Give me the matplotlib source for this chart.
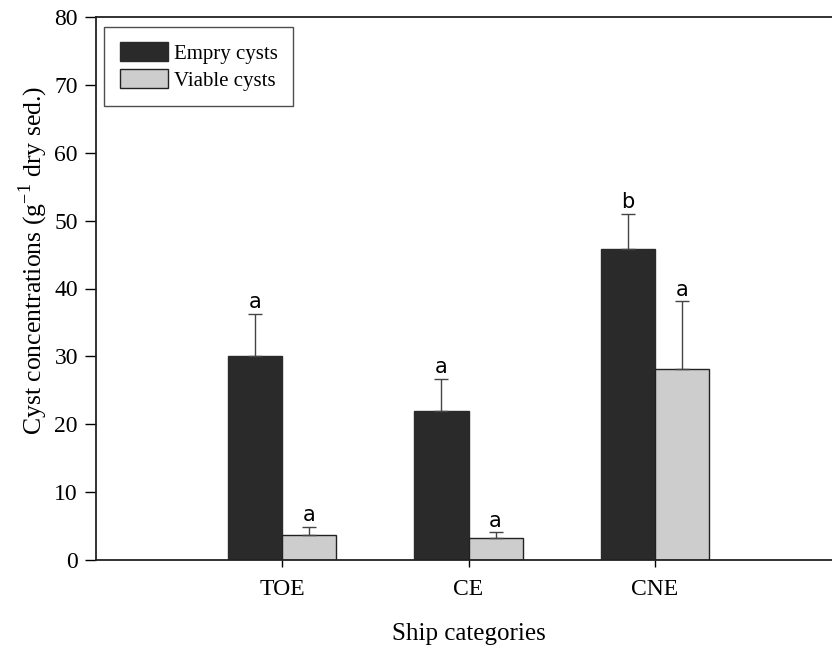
import numpy as np
import matplotlib
matplotlib.use("Agg")
import matplotlib.pyplot as plt

# Cyst concentrations per ship category
categories = ["TOE", "CE", "CNE"]
empty_mean = [30.1, 21.9, 45.8]
empty_err = [6.2, 4.8, 5.2]
viable_mean = [3.7, 3.3, 28.2]
viable_err = [1.2, 0.8, 9.9]
empty_letters = ["a", "a", "b"]
viable_letters = ["a", "a", "a"]
y_ticks = [0, 10, 20, 30, 40, 50, 60, 70, 80]

plt.rcParams["font.family"] = ["Liberation Serif", "DejaVu Serif"]
plt.rcParams["mathtext.fontset"] = "custom"
plt.rcParams["mathtext.rm"] = "Liberation Serif"

fig = plt.figure(figsize=(8.32, 6.48), dpi=100)
ax = fig.add_axes([96 / 832, 1 - 560 / 648, 745 / 832, 543 / 648])

x = np.arange(1, len(categories) + 1)
width = 0.29
dark = "#2a2a2a"
light = "#cdcdcd"

ax.bar(x - width / 2, empty_mean, width, color=dark, edgecolor=dark,
       linewidth=1, label="Empry cysts", zorder=2)
ax.bar(x + width / 2, viable_mean, width, color=light, edgecolor="#222222",
       linewidth=1, label="Viable cysts", zorder=2)

# upward-only error bars
ax.errorbar(x - width / 2, empty_mean, yerr=[np.zeros(3), empty_err],
            fmt="none", ecolor="#444444", elinewidth=1, capsize=5, capthick=1, zorder=3)
ax.errorbar(x + width / 2, viable_mean, yerr=[np.zeros(3), viable_err],
            fmt="none", ecolor="#444444", elinewidth=1, capsize=5, capthick=1, zorder=3)

# significance letters above the caps
for xi, m, e, t in zip(x - width / 2, empty_mean, empty_err, empty_letters):
    ax.text(xi, m + e + 0.2, t, ha="center", va="bottom", fontsize=15,
            family="DejaVu Sans")
for xi, m, e, t in zip(x + width / 2, viable_mean, viable_err, viable_letters):
    ax.text(xi, m + e + 0.2, t, ha="center", va="bottom", fontsize=15,
            family="DejaVu Sans")

ax.set_xlim(0, 4)
ax.set_ylim(0, 80)
ax.set_yticks(y_ticks)
ax.set_xticks(x)
ax.set_xticklabels(categories)
ax.tick_params(axis="y", direction="out", length=8, width=1, labelsize=17, pad=5)
ax.tick_params(axis="x", direction="out", length=5, width=1, labelsize=17, pad=9)

for side in ["left", "top", "bottom"]:
    ax.spines[side].set_linewidth(1.3)
    ax.spines[side].set_color("#222222")
ax.spines["right"].set_visible(False)

ax.set_xlabel("Ship categories", fontsize=18, labelpad=16)
ax.set_ylabel("Cyst concentrations (g$^{-1}$ dry sed.)", fontsize=18.5)
ax.yaxis.set_label_coords(-0.062, 0.552)

leg = ax.legend(loc="upper left", bbox_to_anchor=(0.011, 0.982), borderaxespad=0,
                fontsize=15, frameon=True, fancybox=False, edgecolor="#222222",
                handlelength=2.3, handleheight=1.0, borderpad=0.75,
                labelspacing=0.25, handletextpad=0.3)
leg.get_frame().set_linewidth(1)

fig.savefig("out.png", dpi=100)
